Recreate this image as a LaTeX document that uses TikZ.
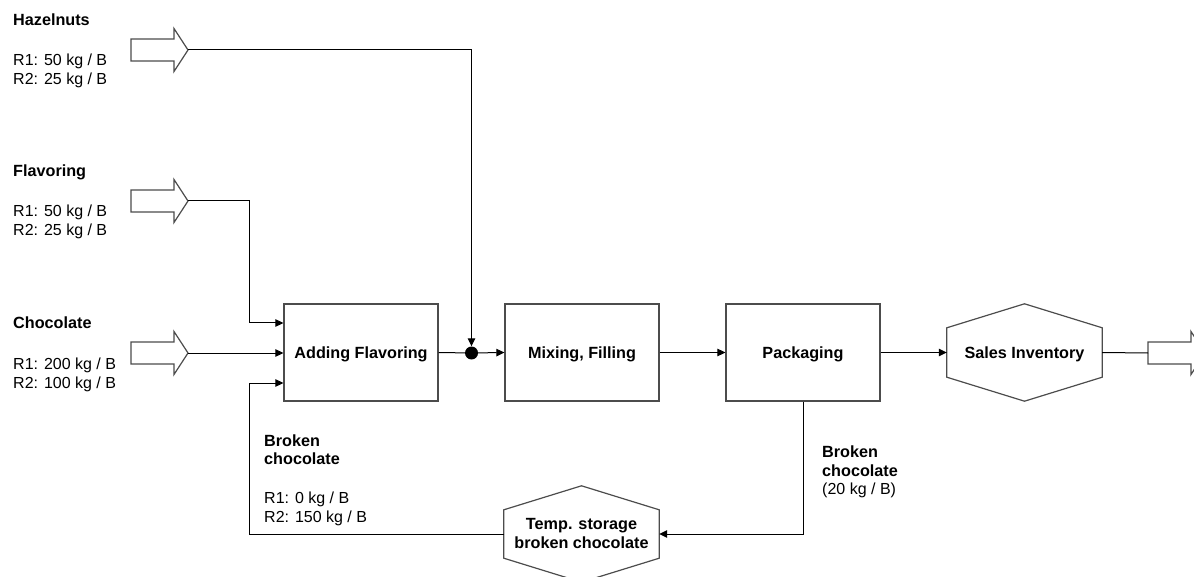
\documentclass[tikz,border=0pt]{standalone}
\usepackage{fontspec}
\setmainfont{Liberation Sans}
\usetikzlibrary{arrows.meta}
\begin{document}
\begin{tikzpicture}[x=1pt,y=-1pt,
  every node/.style={font=\fontsize{16}{19}\selectfont},
  lbl/.style={anchor=base west,inner sep=0pt},
  ttl/.style={lbl,font=\fontsize{16.2}{19}\selectfont\bfseries},
  stepbox/.style={draw=black!70,line width=1.2pt,minimum width=154pt,minimum height=97pt,
    inner sep=0pt,text depth=0pt,font=\fontsize{16.2}{19}\selectfont\bfseries},
  hexnode/.style={minimum width=155pt,minimum height=96pt,inner sep=0pt,align=center,
    font=\fontsize{16.2}{19}\selectfont\bfseries},
  hexline/.style={draw=black!70,line width=1.2pt},
  flow/.style={line width=1pt,-{Triangle[length=8pt,width=7.5pt]}},
  wire/.style={line width=1pt},
  inarrow/.style={draw=black!70,line width=1.2pt,fill=white},
  feed/.pic={
    \draw[inarrow] (0,-11) -- (43,-11) -- (43,-21.5) -- (57,0) -- (43,21.5) -- (43,11) -- (0,11) -- cycle;
    \coordinate (-tip) at (57,0);
  }]
\useasboundingbox (0,0) rectangle (1194,577);
\clip (0,0) rectangle (1194,577);

% raw material feeds
\pic (hz) at (131,50) {feed};
\pic (fl) at (131,201) {feed};
\pic (ch) at (131,353) {feed};

\node[ttl] (hz-name) at (13,26) {Hazelnuts};
\node[lbl] (hz-r1) at (13,66) {R1: 50 kg / B};
\node[lbl] (hz-r2) at (13,85) {R2: 25 kg / B};

\node[ttl] (fl-name) at (13,177) {Flavoring};
\node[lbl] (fl-r1) at (13,217) {R1: 50 kg / B};
\node[lbl] (fl-r2) at (13,236) {R2: 25 kg / B};

\node[ttl] (ch-name) at (13,329) {Chocolate};
\node[lbl] (ch-r1) at (13,369) {R1: 200 kg / B};
\node[lbl] (ch-r2) at (13,388) {R2: 100 kg / B};

% process steps
\node[stepbox] (af) at (361,352.5) {Adding Flavoring};
\node[stepbox] (mx) at (582,352.5) {Mixing, Filling};
\node[stepbox] (pk) at (803,352.5) {Packaging};

% inventories (hexagons)
\node[hexnode,minimum height=97pt,text depth=0pt] (si) at (1024.5,352.5) {Sales Inventory};
\draw[hexline] ([yshift=-24pt]si.north west) -- (si.north) -- ([yshift=-24pt]si.north east)
  -- ([yshift=24pt]si.south east) -- (si.south) -- ([yshift=24pt]si.south west) -- cycle;

\node[hexnode] (ts) at (581.5,534) {Temp. storage\\broken chocolate};
\draw[hexline] ([yshift=-24pt]ts.north west) -- (ts.north) -- ([yshift=-24pt]ts.north east)
  -- ([yshift=24pt]ts.south east) -- (ts.south) -- ([yshift=24pt]ts.south west) -- cycle;

% product leaving
\pic (out) at (1148,353) {feed};

% junction
\node[circle,fill=black,inner sep=0pt,minimum size=13pt] (jn) at (471.5,353) {};

% entry points on Adding Flavoring
\coordinate (af-in1) at ([yshift=29.5pt]af.west);
\coordinate (af-in3) at ([yshift=-30.5pt]af.west);
\coordinate (bend) at (249,0);
\coordinate (out-in) at (1148,353);

% connectors
\draw[flow] (hz-tip) -| (jn.north);
\draw[flow] (fl-tip) -| (bend |- af-in1) -- (af-in1);
\draw[flow] (ch-tip) -- (ch-tip -| af.west);
\draw[flow] (ts.west) -| (bend |- af-in3) -- (af-in3);
\draw[wire] (af.east) -- (jn);
\draw[flow] (jn) -- (mx.west);
\draw[flow] (mx.east) -- (pk.west);
\draw[flow] (pk.east) -- (si.west);
\draw[wire] (si.east) -- (out-in);
\draw[flow] (pk.south) |- (ts.east);

% recycled broken chocolate labels
\node[ttl] (bl-1) at (264,446) {Broken};
\node[ttl] (bl-2) at (264,464) {chocolate};
\node[lbl] (bl-r1) at (264,503) {R1: 0 kg / B};
\node[lbl] (bl-r2) at (264,522) {R2: 150 kg / B};

\node[ttl] (br-1) at (822,457) {Broken};
\node[ttl] (br-2) at (822,476) {chocolate};
\node[lbl] (br-q) at (822,494) {(20 kg / B)};
\end{tikzpicture}
\end{document}
